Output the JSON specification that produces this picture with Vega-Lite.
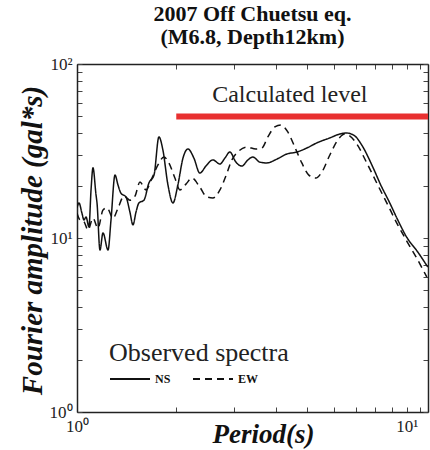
{
  "$schema": "https://vega.github.io/schema/vega-lite/v6.json",
  "width": 351,
  "height": 348,
  "autosize": {"type": "none"},
  "padding": {"left": 77, "top": 64, "right": 2, "bottom": 38},
  "background": "white",
  "config": {
    "view": {"stroke": null},
    "font": "Liberation Serif",
    "axis": {
      "grid": false,
      "domainColor": "#222",
      "domainWidth": 1.5,
      "tickColor": "#444",
      "tickSize": -5,
      "tickWidth": 1,
      "labelFont": "Liberation Serif",
      "labelFontSize": 17,
      "labelColor": "#222",
      "titleFont": "Liberation Serif",
      "titleFontWeight": "bold",
      "titleFontStyle": "italic",
      "titleFontSize": 29,
      "titleColor": "#111"
    }
  },
  "title": {
    "text": ["2007 Off Chuetsu eq.", "(M6.8, Depth12km)"],
    "font": "Liberation Serif",
    "fontSize": 22,
    "fontWeight": "bold",
    "color": "#111",
    "lineHeight": 23,
    "anchor": "middle",
    "offset": 6
  },
  "datasets": {
    "spectra": [
      {"series": "NS", "period": 1.000, "amp": 14.9},
      {"series": "NS", "period": 1.014, "amp": 15.9},
      {"series": "NS", "period": 1.035, "amp": 13.9},
      {"series": "NS", "period": 1.050, "amp": 12.7},
      {"series": "NS", "period": 1.065, "amp": 13.2},
      {"series": "NS", "period": 1.087, "amp": 11.6},
      {"series": "NS", "period": 1.103, "amp": 18.9},
      {"series": "NS", "period": 1.118, "amp": 25.3},
      {"series": "NS", "period": 1.142, "amp": 17.7},
      {"series": "NS", "period": 1.150, "amp": 15.9},
      {"series": "NS", "period": 1.174, "amp": 8.53},
      {"series": "NS", "period": 1.199, "amp": 10.7},
      {"series": "NS", "period": 1.242, "amp": 8.53},
      {"series": "NS", "period": 1.268, "amp": 12.7},
      {"series": "NS", "period": 1.304, "amp": 23.0},
      {"series": "NS", "period": 1.331, "amp": 20.2},
      {"series": "NS", "period": 1.359, "amp": 18.1},
      {"series": "NS", "period": 1.408, "amp": 17.2},
      {"series": "NS", "period": 1.447, "amp": 14.1},
      {"series": "NS", "period": 1.478, "amp": 11.9},
      {"series": "NS", "period": 1.510, "amp": 14.1},
      {"series": "NS", "period": 1.541, "amp": 15.9},
      {"series": "NS", "period": 1.596, "amp": 16.5},
      {"series": "NS", "period": 1.652, "amp": 20.7},
      {"series": "NS", "period": 1.712, "amp": 23.0},
      {"series": "NS", "period": 1.772, "amp": 38.1},
      {"series": "NS", "period": 1.822, "amp": 32.0},
      {"series": "NS", "period": 1.887, "amp": 20.2},
      {"series": "NS", "period": 1.954, "amp": 15.9},
      {"series": "NS", "period": 2.023, "amp": 20.2},
      {"series": "NS", "period": 2.096, "amp": 28.8},
      {"series": "NS", "period": 2.170, "amp": 32.5},
      {"series": "NS", "period": 2.262, "amp": 28.8},
      {"series": "NS", "period": 2.358, "amp": 23.6},
      {"series": "NS", "period": 2.460, "amp": 25.9},
      {"series": "NS", "period": 2.583, "amp": 28.1},
      {"series": "NS", "period": 2.713, "amp": 26.6},
      {"series": "NS", "period": 2.809, "amp": 28.8},
      {"series": "NS", "period": 2.909, "amp": 31.2},
      {"series": "NS", "period": 3.033, "amp": 27.3},
      {"series": "NS", "period": 3.162, "amp": 25.9},
      {"series": "NS", "period": 3.298, "amp": 28.1},
      {"series": "NS", "period": 3.415, "amp": 29.2},
      {"series": "NS", "period": 3.585, "amp": 27.3},
      {"series": "NS", "period": 3.765, "amp": 27.0},
      {"series": "NS", "period": 4.036, "amp": 28.4},
      {"series": "NS", "period": 4.329, "amp": 30.4},
      {"series": "NS", "period": 4.642, "amp": 31.2},
      {"series": "NS", "period": 4.977, "amp": 32.9},
      {"series": "NS", "period": 5.337, "amp": 35.2},
      {"series": "NS", "period": 5.845, "amp": 37.6},
      {"series": "NS", "period": 6.266, "amp": 39.6},
      {"series": "NS", "period": 6.579, "amp": 40.1},
      {"series": "NS", "period": 6.957, "amp": 38.6},
      {"series": "NS", "period": 7.305, "amp": 34.2},
      {"series": "NS", "period": 7.888, "amp": 25.6},
      {"series": "NS", "period": 8.337, "amp": 20.2},
      {"series": "NS", "period": 8.882, "amp": 15.9},
      {"series": "NS", "period": 9.391, "amp": 12.7},
      {"series": "NS", "period": 10.00, "amp": 10.1},
      {"series": "NS", "period": 10.80, "amp": 8.31},
      {"series": "NS", "period": 11.58, "amp": 6.81},
      {"series": "EW", "period": 1.000, "amp": 13.9},
      {"series": "EW", "period": 1.021, "amp": 12.7},
      {"series": "EW", "period": 1.050, "amp": 12.4},
      {"series": "EW", "period": 1.080, "amp": 11.1},
      {"series": "EW", "period": 1.118, "amp": 13.0},
      {"series": "EW", "period": 1.158, "amp": 11.4},
      {"series": "EW", "period": 1.199, "amp": 14.5},
      {"series": "EW", "period": 1.233, "amp": 14.9},
      {"series": "EW", "period": 1.286, "amp": 13.0},
      {"series": "EW", "period": 1.331, "amp": 14.8},
      {"series": "EW", "period": 1.388, "amp": 17.4},
      {"series": "EW", "period": 1.447, "amp": 16.5},
      {"series": "EW", "period": 1.499, "amp": 17.4},
      {"series": "EW", "period": 1.552, "amp": 21.0},
      {"series": "EW", "period": 1.619, "amp": 18.9},
      {"series": "EW", "period": 1.688, "amp": 22.1},
      {"series": "EW", "period": 1.760, "amp": 26.3},
      {"series": "EW", "period": 1.835, "amp": 29.2},
      {"series": "EW", "period": 1.900, "amp": 27.0},
      {"series": "EW", "period": 1.981, "amp": 22.1},
      {"series": "EW", "period": 2.051, "amp": 18.9},
      {"series": "EW", "period": 2.140, "amp": 20.4},
      {"series": "EW", "period": 2.231, "amp": 22.1},
      {"series": "EW", "period": 2.358, "amp": 19.6},
      {"series": "EW", "period": 2.477, "amp": 17.2},
      {"series": "EW", "period": 2.583, "amp": 17.0},
      {"series": "EW", "period": 2.713, "amp": 18.9},
      {"series": "EW", "period": 2.828, "amp": 22.7},
      {"series": "EW", "period": 2.950, "amp": 28.1},
      {"series": "EW", "period": 3.074, "amp": 31.2},
      {"series": "EW", "period": 3.275, "amp": 33.3},
      {"series": "EW", "period": 3.486, "amp": 32.5},
      {"series": "EW", "period": 3.636, "amp": 32.9},
      {"series": "EW", "period": 3.792, "amp": 38.1},
      {"series": "EW", "period": 3.981, "amp": 43.5},
      {"series": "EW", "period": 4.151, "amp": 44.6},
      {"series": "EW", "period": 4.358, "amp": 40.7},
      {"series": "EW", "period": 4.577, "amp": 33.3},
      {"series": "EW", "period": 4.806, "amp": 27.0},
      {"series": "EW", "period": 5.047, "amp": 23.0},
      {"series": "EW", "period": 5.300, "amp": 22.1},
      {"series": "EW", "period": 5.527, "amp": 23.9},
      {"series": "EW", "period": 5.845, "amp": 30.0},
      {"series": "EW", "period": 6.179, "amp": 36.6},
      {"series": "EW", "period": 6.487, "amp": 39.6},
      {"series": "EW", "period": 6.715, "amp": 38.6},
      {"series": "EW", "period": 7.055, "amp": 34.7},
      {"series": "EW", "period": 7.565, "amp": 27.0},
      {"series": "EW", "period": 8.111, "amp": 20.7},
      {"series": "EW", "period": 8.757, "amp": 15.5},
      {"series": "EW", "period": 9.391, "amp": 11.9},
      {"series": "EW", "period": 10.00, "amp": 9.61},
      {"series": "EW", "period": 10.72, "amp": 7.67},
      {"series": "EW", "period": 11.50, "amp": 5.97}
    ],
    "level": [{"from": 2.0, "to": 11.6, "amp": 50, "label": "Calculated level", "labelPeriod": 4.42, "labelAmp": 66}]
  },
  "resolve": {"axis": {"x": "independent", "y": "independent"}},
  "layer": [
    {
      "data": {"name": "spectra"},
      "mark": {"type": "line", "color": "#111", "strokeWidth": 1.5, "clip": true, "interpolate": "monotone"},
      "encoding": {
        "x": {
          "field": "period", "type": "quantitative",
          "scale": {"type": "log", "domain": [1, 11.6], "nice": false},
          "axis": {
            "orient": "bottom",
            "title": "Period(s)",
            "titleFontSize": 27,
            "values": [1, 2, 3, 4, 5, 6, 7, 8, 9, 10, 11],
            "labelExpr": "datum.value == 1 ? '10⁰' : datum.value == 10 ? '10¹' : ''",
            "labelPadding": 11,
            "labelFlush": false,
            "titleX": 186,
            "titleY": 30,
            "titleBaseline": "alphabetic"
          }
        },
        "y": {
          "field": "amp", "type": "quantitative",
          "scale": {"type": "log", "domain": [1, 100], "nice": false},
          "axis": {
            "orient": "left",
            "title": "Fourier amplitude (gal*s)",
            "values": [1, 2, 3, 4, 5, 6, 7, 8, 9, 10, 20, 30, 40, 50, 60, 70, 80, 90, 100],
            "labelExpr": "datum.value == 1 ? '10⁰' : datum.value == 10 ? '10¹' : datum.value == 100 ? '10²' : ''",
            "labelPadding": 10,
            "labelFlush": false,
            "titleX": -36,
            "titleY": 176,
            "titleAngle": -90,
            "titleAlign": "center",
            "titleBaseline": "alphabetic"
          }
        },
        "strokeDash": {
          "field": "series", "type": "nominal",
          "scale": {"domain": ["NS", "EW"], "range": [[1, 0], [7, 5]]},
          "legend": {
            "title": "Observed spectra",
            "orient": "none",
            "legendX": 32,
            "legendY": 276,
            "direction": "horizontal",
            "titleFont": "Liberation Serif",
            "titleFontSize": 26,
            "titleFontWeight": "normal",
            "titleColor": "#222",
            "titlePadding": -8,
            "labelFont": "Liberation Serif",
            "labelFontSize": 12,
            "labelFontWeight": "bold",
            "labelColor": "#111",
            "symbolType": "stroke",
            "symbolSize": 1600,
            "symbolStrokeWidth": 1.8,
            "symbolStrokeColor": "#111",
            "columnPadding": 18,
            "labelOffset": 4
          }
        }
      }
    },
    {
      "data": {"name": "level"},
      "mark": {"type": "rule", "color": "#e83030", "strokeWidth": 6, "clip": true},
      "encoding": {
        "x": {
          "field": "from", "type": "quantitative",
          "scale": {"type": "log", "domain": [1, 11.6], "nice": false},
          "axis": {"orient": "top", "title": null, "labels": false,
                   "values": [1, 2, 3, 4, 5, 6, 7, 8, 9, 10, 11]}
        },
        "x2": {"field": "to"},
        "y": {
          "field": "amp", "type": "quantitative",
          "scale": {"type": "log", "domain": [1, 100], "nice": false},
          "axis": {"orient": "right", "title": null, "labels": false,
                   "values": [1, 2, 3, 4, 5, 6, 7, 8, 9, 10, 20, 30, 40, 50, 60, 70, 80, 90, 100]}
        }
      }
    },
    {
      "data": {"name": "level"},
      "mark": {"type": "text", "font": "Liberation Serif", "fontSize": 24, "color": "#222", "align": "center", "baseline": "middle"},
      "encoding": {
        "x": {"field": "labelPeriod", "type": "quantitative", "axis": null},
        "y": {"field": "labelAmp", "type": "quantitative", "axis": null},
        "text": {"field": "label"}
      }
    }
  ]
}
